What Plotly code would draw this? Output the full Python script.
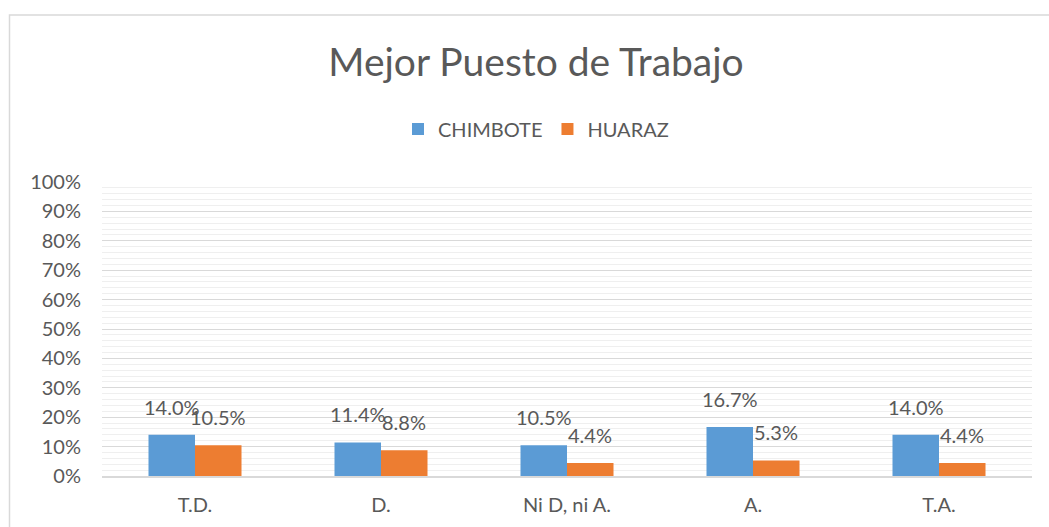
import plotly.graph_objects as go

categories = ["T.D.", "D.", "Ni D, ni A.", "A.", "T.A."]
chimbote = [0.140, 0.114, 0.105, 0.167, 0.140]
huaraz = [0.105, 0.088, 0.044, 0.053, 0.044]
series_names = ["CHIMBOTE", "HUARAZ"]
y_ticks = [i / 10 for i in range(11)]

BLUE = "#5B9BD5"
ORANGE = "#ED7D31"
TXT = "#595959"
FONT = "Lato"

W, H = 1049, 527
L, R, T, B = 102, 17, 182, 51
pw, ph = W - L - R, H - T - B

fig = go.Figure()
fig.add_trace(go.Bar(x=categories, y=chimbote, name=series_names[0], marker_color=BLUE,
                     marker_line_width=0))
fig.add_trace(go.Bar(x=categories, y=huaraz, name=series_names[1], marker_color=ORANGE,
                     marker_line_width=0))

annotations = []
for vals, shift in ((chimbote, -23), (huaraz, 23)):
    for c, v in zip(categories, vals):
        annotations.append(dict(x=c, y=v, xref="x", yref="y", text=f"{v*100:.1f}%",
                                showarrow=False, xshift=shift, yshift=14, yanchor="bottom",
                                font=dict(family=FONT, size=20, color=TXT)))

def px_x(p):
    return (p - L) / pw

def px_y(p):
    return (H - B - p) / ph

fig.update_layout(
    width=W, height=H,
    margin=dict(l=L, r=R, t=T, b=B),
    paper_bgcolor="white", plot_bgcolor="white",
    font=dict(family=FONT, color=TXT, size=20),
    title=dict(text="Mejor Puesto de Trabajo", x=536 / W, xanchor="center",
               y=1 - 62 / H, yanchor="middle", yref="container",
               font=dict(family=FONT, size=39, color=TXT)),
    barmode="group", bargap=0.5, bargroupgap=0,
    legend=dict(orientation="h", x=px_x(536), xanchor="center", y=px_y(129), yanchor="middle",
                font=dict(family=FONT, size=20, color=TXT), itemwidth=30,
                traceorder="normal"),
    annotations=annotations,
    shapes=[dict(type="rect", xref="paper", yref="paper",
                 x0=px_x(9.5), x1=px_x(1060), y0=px_y(540), y1=px_y(15),
                 line=dict(color="#D9D9D9", width=1.5), fillcolor="rgba(0,0,0,0)", layer="below")],
)
fig.update_yaxes(range=[0, 1], tickvals=y_ticks, tickformat=".0%",
                 showgrid=True, gridcolor="#D9D9D9", gridwidth=1,
                 minor=dict(dtick=0.02, showgrid=True, gridcolor="#EFEFEF", gridwidth=1),
                 zeroline=False, showline=False, ticks="", ticklabelstandoff=20,
                 tickfont=dict(family=FONT, size=20, color=TXT))
fig.update_xaxes(showline=True, linecolor="#D9D9D9", linewidth=1.5, ticks="",
                 tickfont=dict(family=FONT, size=20, color=TXT), ticklabelstandoff=10)

fig.write_html("out.html", config={"displayModeBar": False},
               post_script="document.body.style.margin='0';document.body.style.overflow='hidden';")
